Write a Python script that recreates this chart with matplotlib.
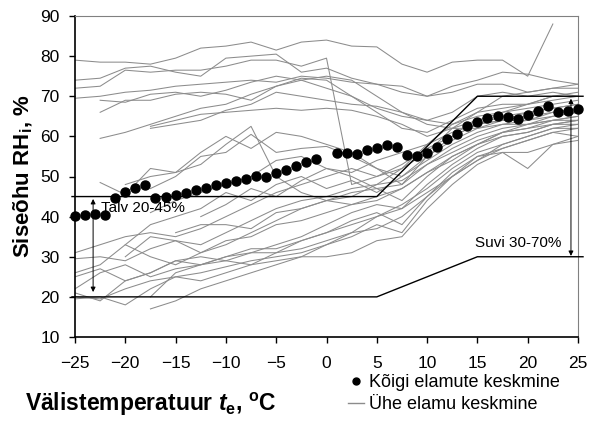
import numpy as np
import matplotlib
matplotlib.use("Agg")
import matplotlib.pyplot as plt
from matplotlib.lines import Line2D

plt.rcParams['font.family'] = ['Liberation Sans', 'DejaVu Sans']
plt.rcParams['mathtext.fontset'] = 'custom'
plt.rcParams['mathtext.rm'] = 'Liberation Sans:bold'
plt.rcParams['mathtext.it'] = 'Liberation Sans:bold:italic'
plt.rcParams['mathtext.bf'] = 'Liberation Sans:bold'

# mean of all houses (no point at 0 degC)
mean_t = list(range(-25, 0)) + list(range(1, 26))
mean_rh = [40.1, 40.3, 40.6, 40.5, 44.7, 46.1, 47.2, 48.0, 44.7, 44.9, 45.4, 45.8,
           46.7, 47.2, 47.8, 48.4, 48.9, 49.5, 50.1, 49.9, 50.8, 51.6, 52.6, 53.5, 54.3,
           55.9, 55.9, 55.6, 56.6, 57.1, 57.8, 57.3, 55.3, 55.1, 55.8, 57.4, 59.3, 60.7,
           62.6, 63.6, 64.7, 65.1, 64.9, 64.3, 65.3, 66.4, 67.6, 66.1, 66.4, 66.9]

# single house means, read every 2.5 degC
house_t = [-25, -22.5, -20, -17.5, -15, -12.5, -10, -7.5, -5, -2.5, 0, 2.5, 5,
           7.5, 10, 12.5, 15, 17.5, 20, 22.5, 25]
nan = np.nan
houses = [
    [79, 78.5, 78.5, 78, 79.5, 82, 82.5, 83.5, 81.5, 83.5, 84, 82.5, 82.3, 78, 76, 78.5, 79, 79, 75, 88, nan],
    [74, 74.5, 77, 77.5, 76, 75, 79.5, 80, 80.5, 76, 77, 74.5, 73, 72.5, 70, 72.5, 74, 76, 75.5, 74, 73],
    [72, 72.5, 76.5, 76, 76.5, 76.5, 77.5, 79, 79, 77.5, 79.5, 48, 50, 52, 56, 62, 66, 70, 71, 72, 72],
    [69.5, 70, 71, 71.5, 72.5, 73, 73.5, 74, 73.5, 75, 74.5, 73.5, 73, 71, 70, 71, 73, 73, 71, 72, 73],
    [nan, 69, 68.5, 70.5, 71, 70, 71.5, 73.5, 75, 74, 72, 70, 67, 65, 64, 66, 70, 71, 70, 71, 70],
    [nan, 66, 69, 69, 70.5, 71, 70.5, 69, 72.5, 74.5, 74, 70, 66, 62, 61, 64, 67, 68, 68, 70, 71],
    [nan, 59.5, 61, 63, 65, 67, 68, 70.5, 72.5, 74, 75, 74, 70, 66, 64, 63, 65, 66, 67, 68, 69],
    [nan, nan, nan, 62.5, 64, 65.5, 66, 66.5, 67, 66.5, 67, 66.5, 65, 63, 60, 62, 64, 66, 68, 70, 70],
    [nan, nan, nan, 62, 63, 64, 66.5, 68, 71, 70, 69, 68, 67.5, 66, 63, 62, 62, 63, 64, 66, 67],
    [nan, 48.5, 45.5, 52, 51, 56, 60, 57, 61, 60, 58, 56, 52, 50, 55, 60, 63, 64, 65, 66, nan],
    [nan, nan, 48, 50, 51, 53, 58, 62.5, 50, 46, 44, 45, 48, 52, 58, 63, 66, 67, 68, 69, 70],
    [nan, nan, nan, 47, 50, 55, 56, 60.5, 56, 57, 57.5, 55, 52, 48, 55, 59, 62, 64, 66, 67, 68],
    [nan, nan, nan, 41, 44, 46, 48, 50, 54, 55, 52, 50, 47, 44, 50, 55, 58, 61, 63, 65, 66],
    [nan, nan, nan, nan, nan, 40, 43, 47, 45, 49, 52, 51, 54, 56, 58, 61, 63, 65, 66, 67, 68],
    [nan, nan, 33, 38, 40, 42, 46, 44, 48, 50, 47, 49, 46, 50, 54, 58, 61, 63, 63, 64, 65],
    [31, 33, 35, 36, 35, 37, 40, 43, 46, 48, 50, 52, 50, 53, 57, 60, 63, 64, 64, 65, 66],
    [29.5, 30, 29, 32, 34, 33, 36, 39, 42, 44, 45, 47, 48, 49, 53, 57, 60, 62, 63, 64, 65],
    [26, 28, 33, 30, 28, 31, 33, 36, 39, 42, 44, 43, 45, 47, 51, 55, 58, 61, 62, 64, 64],
    [25, 27, 24, 26, 29, 30, 29, 31, 33, 35, 38, 41, 43, 42, 48, 53, 57, 60, 61, 63, 63],
    [22, 26, 28, 25, 27, 28, 30, 32, 32, 34, 36, 38, 40, 43, 47, 52, 56, 58, 60, 62, 62],
    [20, 19.5, 22, 24, 25, 26, 27.5, 29, 30, 31, 33, 35, 38, 36, 44, 50, 54, 57, 59, 61, 60],
    [19.5, 20, 18, 22, 25, 24, 26, 28, 29, 30, 30, 31, 34, 35, 42, 48, 53, 56, 56, 58, 59],
    [21, 19, 24, 26, 29, 28, 30, 31, 31, 32, 34, 36, 37, 40, 45, 51, 55, 56, 52, 58, 60],
    [nan, nan, nan, 17, 19, 22, 24, 26, 28, 30, 33, 36, 40, 42, 46, 50, 54, 58, 60, 62, 63],
    [nan, nan, nan, 20, 26, 28, 29, 28, 31, 34, 36, 39, 41, 38, 45, 50, 55, 57, 59, 61, 62],
    [nan, nan, 30, 35, 34, 31, 34, 35, 38, 39, 41, 43, 44, 47, 51, 54, 58, 60, 61, 63, 64],
    [nan, nan, nan, nan, 36, 38, 38, 37, 41, 42, 44, 46, 47, 48, 53, 56, 59, 61, 62, 63, 64],
]

# recommended limits
lim_t = [-25.3, 5, 15, 25.5]
lim_upper = [45, 45, 70, 70]
lim_lower = [20, 20, 30, 30]

grey = '#8c8c8c'

fig = plt.figure(figsize=(5.9, 4.21), dpi=100)
ax = fig.add_axes([75/590, 1-337/421, 503/590, 321/421])

for h in houses:
    ax.plot(house_t, h, color=grey, lw=0.75, zorder=2)

ax.plot(lim_t, lim_upper, color='black', lw=1.0, zorder=3, clip_on=False)
ax.plot(lim_t, lim_lower, color='black', lw=1.0, zorder=3, clip_on=False)

ax.plot(mean_t, mean_rh, 'o', color='black', ms=6.5, zorder=4, clip_on=False)

arrow = dict(arrowstyle='<|-|>', lw=0.7, color='black', mutation_scale=7,
             shrinkA=0, shrinkB=0)
ax.annotate('', xy=(-23.2, 21.2), xytext=(-23.2, 44.4), arrowprops=arrow, zorder=5)
ax.annotate('', xy=(24.3, 30.2), xytext=(24.3, 69.4), arrowprops=arrow, zorder=5)
ax.text(-22.4, 42.1, 'Talv 20-45%', fontsize=11, va='center', ha='left', zorder=5)
ax.text(23.3, 33.4, 'Suvi 30-70%', fontsize=11, va='center', ha='right', zorder=5)

ax.set_xlim(-25, 25)
ax.set_ylim(10, 90)
ax.set_xticks(range(-25, 26, 5))
ax.set_yticks(range(10, 91, 10))
ax.tick_params(axis='x', direction='out', length=4, width=1, labelsize=12.5, pad=10)
ax.tick_params(axis='y', direction='out', length=4, width=1, labelsize=12.5, pad=7)
ax.spines['left'].set_linewidth(1.2)
ax.spines['bottom'].set_linewidth(1.2)
ax.spines['top'].set_color('#808080')
ax.spines['right'].set_color('#808080')

fig.text(25/590, 1-404/421, r'Välistemperatuur $\it{t}_{\rm{e}}$, $^{\rm{o}}$C',
         fontsize=16.5, fontweight='bold', ha='left', va='center')
fig.text(23/590, 1-176/421, r'Siseõhu RH$_{\rm{i}}$, %', fontsize=16,
         fontweight='bold', rotation=90, ha='center', va='center')

handles = [Line2D([], [], ls='none', marker='o', ms=5, color='black'),
           Line2D([], [], color=grey, lw=1.0)]
fig.legend(handles, ['Kõigi elamute keskmine', 'Ühe elamu keskmine'],
           loc='upper left', bbox_to_anchor=(348/590, 1-374/421), frameon=False,
           fontsize=13, handlelength=0.9, handletextpad=0.25, labelspacing=0.3,
           borderpad=0, borderaxespad=0)

fig.savefig('out.png', dpi=100)
